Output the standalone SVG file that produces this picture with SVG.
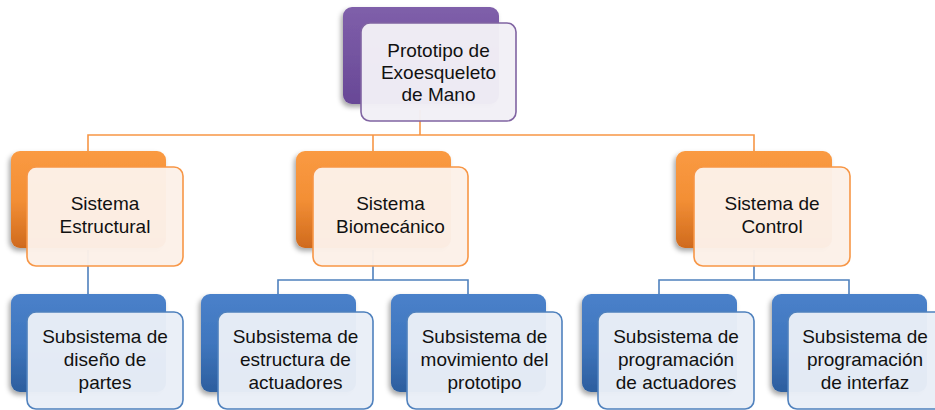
<svg xmlns="http://www.w3.org/2000/svg" width="935" height="410" viewBox="0 0 935 410">
<defs>
<linearGradient id="gP" x1="0" y1="0" x2="0" y2="1"><stop offset="0" stop-color="#7F5FAA"/><stop offset="1" stop-color="#684896"/></linearGradient>
<linearGradient id="gO" x1="0" y1="0" x2="0" y2="1"><stop offset="0" stop-color="#FA9A42"/><stop offset="0.5" stop-color="#F38F35"/><stop offset="1" stop-color="#CF6A1E"/></linearGradient>
<linearGradient id="gB" x1="0" y1="0" x2="0" y2="1"><stop offset="0" stop-color="#4A81CA"/><stop offset="0.5" stop-color="#3F76BE"/><stop offset="1" stop-color="#2D5E9E"/></linearGradient>
<filter id="sh" x="-20%" y="-20%" width="140%" height="150%"><feDropShadow dx="-2" dy="3" stdDeviation="2.5" flood-color="#000" flood-opacity="0.35"/></filter>
</defs>
<style>
.back{filter:url(#sh)}
.fr{stroke-width:1.6}
.fp{fill:#F2EFF6;stroke:#8064A2;fill-opacity:0.97}
.fo{fill:#FCF1E8;stroke:#F79646;fill-opacity:0.97}
.fb{fill:#E9EEF7;stroke:#4F81BD;fill-opacity:0.97}
text{font-family:"Liberation Sans",Arial,sans-serif;font-size:19px;fill:#111;text-anchor:middle}
.co{fill:none;stroke:#F79646;stroke-width:1.6}
.cb{fill:none;stroke:#4F81BD;stroke-width:1.6}
</style>
<g id="connectors">
<path class="co" d="M420 110V135M88 151V135H754V151M373 135V151"/>
<path class="cb" d="M88 250V294M373 250V280M278 294V280H468V294M754 250V280M659 294V280H849V294"/>
</g>
<g id="n0">
<rect class="back" x="343" y="7" width="156" height="97" rx="9" fill="url(#gP)"/>
<rect class="fr fp" x="361" y="23" width="155" height="98" rx="9"/>
<text x="438.5" y="57">Prototipo de</text><text x="438.5" y="79">Exoesqueleto</text><text x="438.5" y="101">de Mano</text>
</g>
<g id="n1">
<rect class="back" x="11" y="151" width="155" height="97" rx="9" fill="url(#gO)"/>
<rect class="fr fo" x="27" y="167" width="156" height="99" rx="9"/>
<text x="105" y="210">Sistema</text><text x="105" y="233">Estructural</text>
</g>
<g id="n2">
<rect class="back" x="296" y="151" width="155" height="97" rx="9" fill="url(#gO)"/>
<rect class="fr fo" x="313" y="167" width="155" height="99" rx="9"/>
<text x="390.5" y="210">Sistema</text><text x="390.5" y="233">Biomecánico</text>
</g>
<g id="n3">
<rect class="back" x="676" y="151" width="156" height="97" rx="9" fill="url(#gO)"/>
<rect class="fr fo" x="694" y="167" width="156" height="99" rx="9"/>
<text x="772" y="210">Sistema de</text><text x="772" y="233">Control</text>
</g>
<g id="n4">
<rect class="back" x="11" y="294" width="155" height="98" rx="9" fill="url(#gB)"/>
<rect class="fr fb" x="27" y="312" width="156" height="97" rx="9"/>
<text x="105" y="343">Subsistema de</text><text x="105" y="366">diseño de</text><text x="105" y="389">partes</text>
</g>
<g id="n5">
<rect class="back" x="201" y="294" width="155" height="98" rx="9" fill="url(#gB)"/>
<rect class="fr fb" x="218" y="312" width="155" height="97" rx="9"/>
<text x="295.5" y="343">Subsistema de</text><text x="295.5" y="366">estructura de</text><text x="295.5" y="389">actuadores</text>
</g>
<g id="n6">
<rect class="back" x="391" y="294" width="155" height="98" rx="9" fill="url(#gB)"/>
<rect class="fr fb" x="407" y="312" width="155" height="97" rx="9"/>
<text x="484.5" y="343">Subsistema de</text><text x="484.5" y="366">movimiento del</text><text x="484.5" y="389">prototipo</text>
</g>
<g id="n7">
<rect class="back" x="582" y="294" width="155" height="98" rx="9" fill="url(#gB)"/>
<rect class="fr fb" x="598" y="312" width="156" height="97" rx="9"/>
<text x="676" y="343">Subsistema de</text><text x="676" y="366">programación</text><text x="676" y="389">de actuadores</text>
</g>
<g id="n8">
<rect class="back" x="772" y="294" width="155" height="98" rx="9" fill="url(#gB)"/>
<rect class="fr fb" x="788" y="312" width="156" height="97" rx="9"/>
<text x="865" y="343">Subsistema de</text><text x="865" y="366">programación</text><text x="865" y="389">de interfaz</text>
</g>
</svg>
